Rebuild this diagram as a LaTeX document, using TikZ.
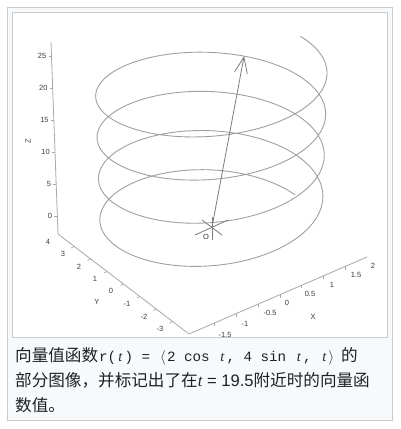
\documentclass[tikz,border=0pt]{standalone}
\usepackage{fontspec}
\setmainfont{Liberation Sans}
\newfontfamily\cjk{Noto Sans CJK SC}
\newfontfamily\monof{Liberation Mono}
\newfontfamily\seriff{Liberation Serif}
\usetikzlibrary{arrows.meta}
\definecolor{frameC}{HTML}{C8CCD1}
\definecolor{capbg}{HTML}{F8F9FA}
\definecolor{helixC}{HTML}{A0A0A0}
\definecolor{axisC}{HTML}{A8A8A8}
\definecolor{arrowC}{HTML}{7C7C7C}
\definecolor{labC}{HTML}{3C3C3C}
\definecolor{textC}{HTML}{202122}
\newcommand\mchar[1]{\makebox[8.5pt][c]{#1}}
\newcommand\tI{{\seriff\itshape t}}
\begin{document}
\begin{tikzpicture}[x=1pt,y=-1pt,
  helix/.style={draw=helixC, line width=0.9pt},
  axisline/.style={draw=axisC, line width=0.8pt},
  tickmark/.style={draw=axisC, line width=0.7pt},
  ticklab/.style={font=\fontsize{7.5}{8}\selectfont, text=labC, inner sep=0pt},
  starline/.style={draw=arrowC, line width=0.8pt},
  vec/.style={draw=arrowC, line width=0.8pt, -{Straight Barb[length=16pt,width=13pt,line width=0.8pt]}},
  captext/.style={anchor=base west, inner sep=0pt, text=textC, font=\cjk\fontsize{16.6}{25}\selectfont}
]
\useasboundingbox (0,0) rectangle (400,429);
% frames
\draw[frameC, fill=capbg, line width=1pt] (7.5,7.5) rectangle (392.5,420.5);
\draw[frameC, fill=white, line width=1pt] (12.5,12.5) rectangle (387.5,337.5);

% axes
\coordinate (ztop) at (51,42);
\coordinate (corner) at (58,234);
\coordinate (ycorner) at (189,334);
\coordinate (xend) at (367,257);
\draw[axisline] (ztop) -- (corner) -- (ycorner) -- (xend);

% z ticks
\foreach \k in {0,...,5}{
  \pgfmathsetmacro\yy{216-32*\k}
  \pgfmathsetmacro\xx{51+7*(\yy-42)/192}
  \pgfmathtruncatemacro\lab{5*\k}
  \draw[tickmark] (\xx,\yy) -- ++(-3,0);
  \node[ticklab, anchor=east] (zl\k) at (\xx-5,\yy) {\lab};
}
\node[ticklab, rotate=90] (zlab) at (28,141) {Z};

% y ticks
\foreach \v in {3,2,1,0,-1,-2,-3}{
  \draw[tickmark] ({58+16.4*(4-\v)},{234+12.5*(4-\v)}) -- ++(-3.2,1.4);
}
\node[ticklab] (yl4) at (48,242) {4};
\node[ticklab] (yl3) at (63,254) {3};
\node[ticklab] (yl2) at (79,267) {2};
\node[ticklab] (yl1) at (95,279) {1};
\node[ticklab] (yl0) at (111,291) {0};
\node[ticklab] (ylm1) at (127,304) {-1};
\node[ticklab] (ylm2) at (144,317) {-2};
\node[ticklab] (ylm3) at (160,329) {-3};
\node[ticklab] (ylab) at (97,302) {Y};

% x ticks
\foreach \v in {-1.5,-1,-0.5,0,0.5,1,1.5}{
  \draw[tickmark] ({280+43.5*\v},{294.7-18.8*\v}) -- ++(0,3);
}
\node[ticklab] (xlm15) at (225,335) {-1.5};
\node[ticklab] (xlm1) at (245,324) {-1};
\node[ticklab] (xlm05) at (270,313) {-0.5};
\node[ticklab] (xl0) at (287,303) {0};
\node[ticklab] (xl05) at (310,294) {0.5};
\node[ticklab] (xl1) at (332,285) {1};
\node[ticklab] (xl15) at (356,275) {1.5};
\node[ticklab] (xl2) at (373,266) {2};
\node[ticklab] (xlab) at (313,317) {X};

% helix
\draw[helix] plot[variable=\t, domain=0.08:25.2, samples=700]
  ({211+(1+0.002*\t)*(89.5*cos(\t r)-65*sin(\t r))},
   {234.8-6.55*\t+(0.93-0.005*\t)*(-38.5*cos(\t r)-50.5*sin(\t r))});

% origin star and vector
\coordinate (O) at (212,227);
\coordinate (P) at ({211+(1+0.002*19.5)*(89.5*cos(19.5 r)-65*sin(19.5 r))},
   {234.8-6.55*19.5+(0.93-0.005*19.5)*(-38.5*cos(19.5 r)-50.5*sin(19.5 r))});
\draw[starline] ([shift={(-17,8)}]O) -- ([shift={(16,-7)}]O);
\draw[starline] ([shift={(-10,-7)}]O) -- ([shift={(10,8)}]O);
\draw[starline] ([shift={(0,-10)}]O) -- ([shift={(0,13)}]O);
\node[ticklab] (olab) at (206,237) {O};
\draw[vec] (O) -- (P);

% caption
\node[captext] (c1a) at (15,361) {向量值函数};
\node[captext, font=\monof\fontsize{14.2}{16}\selectfont] (c1b) at (99,361)
  {\mchar{r}\mchar{(}\mchar{\tI}\mchar{)}\mchar{}\mchar{=}\mchar{}\mchar{$\langle$}\mchar{2}\mchar{}\makebox[25.5pt]{cos}\mchar{}\mchar{\tI}\mchar{,}\mchar{}\mchar{4}\mchar{}\makebox[25.5pt]{sin}\mchar{}\mchar{\tI}\mchar{,}\mchar{}\mchar{\tI}\makebox[5pt][l]{$\rangle$}};
\node[captext] (c1c) at (341,361) {的};
\node[captext] (c2) at (15,386) {部分图像，并标记出了在{\seriff\itshape t}{\rmfamily{} = 19.5}附近时的向量函};
\node[captext] (c3) at (15,411) {数值。};
\end{tikzpicture}
\end{document}
